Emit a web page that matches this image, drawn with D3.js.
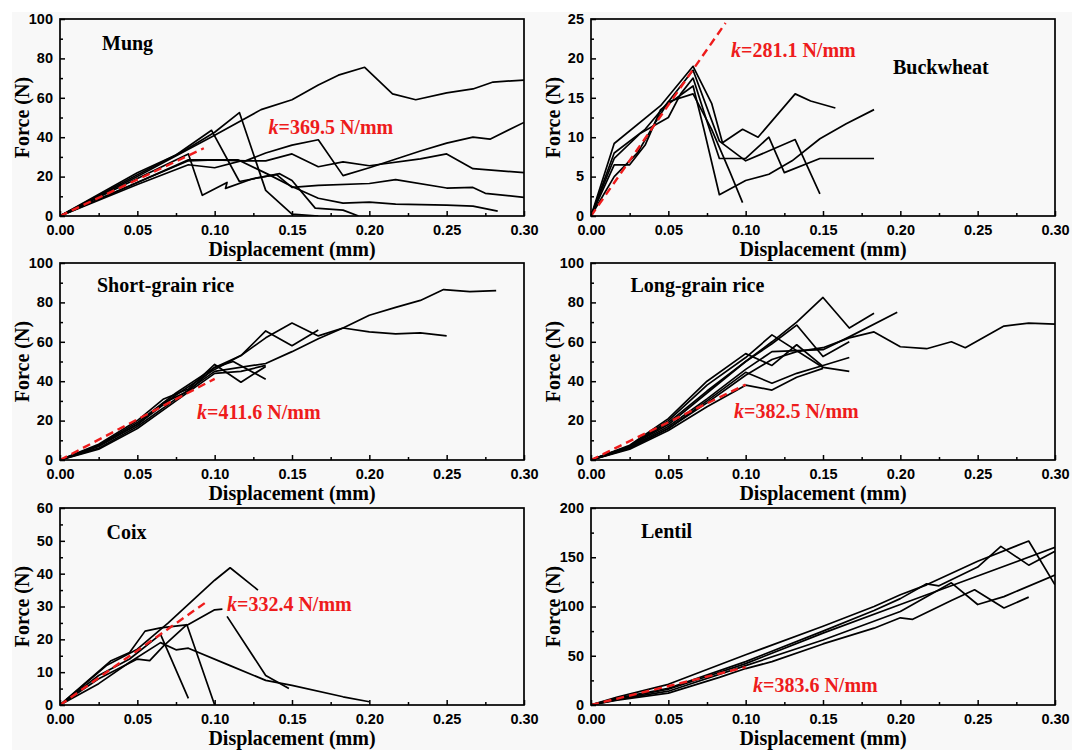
<!DOCTYPE html>
<html>
<head>
<meta charset="utf-8">
<script src="https://cdn.jsdelivr.net/npm/d3@7"></script>
<style>
  html, body { margin: 0; padding: 0; background: #fff; }
  svg { display: block; }
</style>
</head>
<body>
<svg id="chart"></svg>
<script>
// DATA  (displacement mm, force N)
const panelNames = ["Mung", "Buckwheat", "Short-grain rice", "Long-grain rice", "Coix", "Lentil"];
const kLabels = ["369.5", "281.1", "411.6", "382.5", "332.4", "383.6"];
const yMax = [100, 25, 100, 100, 60, 200];
const yStep = [20, 5, 20, 20, 10, 50];
const xTicks = [0, 0.05, 0.1, 0.15, 0.2, 0.25, 0.3];

// end points of the red fitted lines (start at 0,0)
const fitEnds = [[0.093, 34.4], [0.087, 24.5], [0.1, 41.2], [0.1, 38.3], [0.095, 31.5], [0.1, 38.4]];

const mungCurves = [
  [[0,0],[0.05,20],[0.1,41],[0.13,54],[0.15,59],[0.167,66.5],[0.18,71.5],[0.197,75.5],[0.215,62],[0.23,59],[0.25,62.5],[0.267,64.5],[0.28,68],[0.30,69]],
  [[0,0],[0.05,21],[0.08,33],[0.1,42.5],[0.116,52.5],[0.133,13],[0.15,1],[0.167,0]],
  [[0,0],[0.05,22],[0.075,31],[0.098,43.5],[0.116,17.5],[0.142,21.5],[0.15,18],[0.165,4],[0.183,3],[0.193,0]],
  [[0,0],[0.05,19],[0.083,31.5],[0.092,10.5],[0.108,17],[0.107,14],[0.125,19],[0.14,21],[0.15,14.5],[0.167,15.5],[0.2,16.5],[0.217,18.5],[0.25,14.2],[0.267,14.5],[0.275,11.5],[0.30,9.5]],
  [[0,0],[0.05,17],[0.083,28],[0.1,28.5],[0.12,28],[0.133,32],[0.15,36],[0.167,38.7],[0.183,20.5],[0.2,24.5],[0.233,33],[0.25,37],[0.267,40],[0.278,39],[0.30,47.5]],
  [[0,0],[0.05,16],[0.083,26],[0.1,24.5],[0.117,28],[0.133,28],[0.15,31.5],[0.167,25],[0.183,27.5],[0.2,25.5],[0.233,29],[0.25,31.5],[0.267,24],[0.30,22]],
  [[0,0],[0.05,17],[0.083,28.5],[0.115,28.5],[0.135,21],[0.15,15],[0.167,9],[0.183,6.5],[0.2,7],[0.217,6],[0.25,5.5],[0.267,5],[0.283,2.5]]
];

const buckwheatCurves = [
  [[0,0],[0.015,9.2],[0.045,14],[0.066,19],[0.078,14.3],[0.085,9.3],[0.098,11],[0.108,10],[0.132,15.5],[0.142,14.6],[0.158,13.7]],
  [[0,0],[0.015,8],[0.035,11],[0.05,14.5],[0.066,18.5],[0.083,9.5],[0.1,7],[0.132,9.7],[0.148,2.8]],
  [[0,0],[0.015,7.3],[0.032,10.5],[0.05,12.5],[0.058,15.5],[0.066,17.5],[0.075,12],[0.083,7.3],[0.1,7.3],[0.115,10],[0.125,5.5],[0.148,7.3],[0.183,7.3]],
  [[0,0],[0.015,6.5],[0.025,6.5],[0.035,9],[0.045,13.5],[0.066,16.5],[0.073,11],[0.083,2.7],[0.1,4.5],[0.115,5.3],[0.13,7],[0.148,9.8],[0.165,11.7],[0.183,13.5]],
  [[0,0],[0.015,5],[0.03,8],[0.042,12],[0.05,14.5],[0.066,15.5],[0.078,11],[0.09,5.5],[0.098,1.7]]
];

const shortGrainCurves = [
  [[0,0],[0.025,6],[0.05,17],[0.075,31],[0.1,45],[0.133,49],[0.15,55],[0.167,61.5],[0.183,67],[0.2,73.5],[0.217,77.5],[0.233,81],[0.248,86.5],[0.265,85.5],[0.282,86]],
  [[0,0],[0.025,7],[0.05,18],[0.075,33],[0.1,46],[0.117,53],[0.133,65.5],[0.15,58],[0.167,66]],
  [[0,0],[0.025,7.5],[0.05,19],[0.075,34],[0.1,47],[0.117,53],[0.133,62],[0.15,69.5],[0.167,63],[0.183,67],[0.2,65],[0.217,64],[0.233,64.5],[0.25,63]],
  [[0,0],[0.025,8],[0.05,20],[0.067,31],[0.083,36],[0.1,48.5],[0.117,39.5],[0.133,47.5]],
  [[0,0],[0.025,7],[0.05,18],[0.067,29],[0.083,35],[0.1,47],[0.112,50],[0.133,41]],
  [[0,0],[0.025,5.5],[0.05,16],[0.075,30],[0.1,44],[0.117,45],[0.133,48]]
];

const longGrainCurves = [
  [[0,0],[0.025,6],[0.05,16],[0.075,29],[0.1,43],[0.117,51],[0.133,55],[0.15,57],[0.167,62],[0.183,65],[0.2,57.5],[0.217,56.5],[0.233,60],[0.242,57],[0.267,68],[0.283,69.5],[0.30,69]],
  [[0,0],[0.025,7],[0.05,19],[0.075,35],[0.1,50],[0.117,60],[0.133,70],[0.15,82.5],[0.167,67],[0.183,74.5]],
  [[0,0],[0.025,6.5],[0.05,17],[0.075,31],[0.1,46],[0.117,55],[0.133,55.5],[0.15,56],[0.167,62.5],[0.198,75]],
  [[0,0],[0.025,7],[0.05,20],[0.075,38],[0.1,52],[0.117,63.5],[0.15,47],[0.167,45]],
  [[0,0],[0.025,7],[0.05,18],[0.075,34],[0.1,50],[0.117,59],[0.133,68.5],[0.15,52.5],[0.167,60]],
  [[0,0],[0.025,7.5],[0.05,21],[0.075,40],[0.1,54],[0.117,48],[0.133,58.5],[0.15,47.5]],
  [[0,0],[0.025,6],[0.05,16],[0.075,30],[0.1,44.5],[0.117,39],[0.133,44],[0.15,48],[0.167,52]],
  [[0,0],[0.025,5.5],[0.05,15],[0.075,27],[0.1,38],[0.117,35.5],[0.133,42],[0.15,46.5]]
];

const coixCurves = [
  [[0,0],[0.03,12],[0.05,17],[0.07,25],[0.1,38],[0.11,41.8],[0.128,35]],
  [[0,0],[0.033,13.5],[0.045,16],[0.055,22.5],[0.065,23.5],[0.083,24.5],[0.1,29],[0.105,29.2]],
  [[0.108,27],[0.133,9],[0.148,5]],
  [[0,0],[0.025,8],[0.05,14],[0.058,13.5],[0.067,18],[0.082,24.5],[0.1,0]],
  [[0,0],[0.025,9],[0.045,14],[0.065,21.5],[0.083,2]],
  [[0,0],[0.025,6.5],[0.045,13],[0.065,19],[0.075,16.8],[0.083,17.3],[0.11,12],[0.133,7.5],[0.15,6],[0.183,2.5],[0.2,1]]
];

const lentilCurves = [
  [[0,0],[0.017,8],[0.05,21],[0.1,51],[0.15,80],[0.183,100],[0.2,112],[0.217,122],[0.25,146],[0.283,166.5],[0.30,122]],
  [[0,0],[0.017,7],[0.05,17],[0.1,44],[0.15,75],[0.183,96],[0.2,108],[0.217,123],[0.225,121],[0.25,140],[0.265,161],[0.283,142],[0.30,156]],
  [[0,0],[0.017,6],[0.05,16],[0.1,42],[0.15,73],[0.2,102],[0.25,131],[0.30,160]],
  [[0,0],[0.017,5.5],[0.05,14],[0.1,40],[0.15,66],[0.2,95],[0.233,124],[0.25,102],[0.267,110],[0.30,132]],
  [[0,0],[0.017,5],[0.05,12],[0.083,28],[0.1,37],[0.117,44],[0.15,62],[0.183,78],[0.2,88.5],[0.208,87],[0.233,106],[0.248,117],[0.267,98.5],[0.283,109.5]]
];

const allCurves = [mungCurves, buckwheatCurves, shortGrainCurves, longGrainCurves, coixCurves, lentilCurves];

// LAYOUT
const width = 1072, height = 750;
const plotW = 464, plotH = 197;
const colX = [60, 591];
const rowY = [19, 263, 508];
// label offsets inside each panel (px from panel top-left, text baseline)
const nameOffsets = [[42, 31], [302, 55], [37, 28.5], [39.5, 28.5], [46.5, 31], [50, 29.5]];
const kOffsets = [[208.5, 115], [140, 37.5], [137, 156], [143, 155], [167, 102.5], [162, 183.5]];

const serif = "'Liberation Serif', 'Times New Roman', serif";
const sans = "'Liberation Sans', Arial, sans-serif";

const svg = d3.select("#chart").attr("width", width).attr("height", height);

svg.append("rect")
  .attr("x", 12).attr("y", 12)
  .attr("width", width - 12).attr("height", height - 12)
  .attr("fill", "#f8f8f8");

const line = d3.line();

panelNames.forEach((name, i) => {
  const px = colX[i % 2], py = rowY[Math.floor(i / 2)];
  const g = svg.append("g").attr("transform", `translate(${px},${py})`);

  const x = d3.scaleLinear().domain([0, 0.3]).range([0, plotW]);
  const y = d3.scaleLinear().domain([0, yMax[i]]).range([plotH, 0]);
  line.x((d) => x(d[0])).y((d) => y(d[1]));

  // clip
  g.append("clipPath").attr("id", "clip" + i)
    .append("rect").attr("width", plotW).attr("height", plotH);

  // curves
  g.append("g").attr("clip-path", `url(#clip${i})`)
    .selectAll("path")
    .data(allCurves[i])
    .join("path")
    .attr("d", line)
    .attr("fill", "none")
    .attr("stroke", "#000")
    .attr("stroke-width", 1.7)
    .attr("stroke-linejoin", "round");

  // fitted line
  g.append("path")
    .attr("d", line([[0, 0], fitEnds[i]]))
    .attr("fill", "none")
    .attr("stroke", "#ee1c1c")
    .attr("stroke-width", 2.4)
    .attr("stroke-dasharray", "8,5");

  // frame
  g.append("rect")
    .attr("width", plotW).attr("height", plotH)
    .attr("fill", "none").attr("stroke", "#000").attr("stroke-width", 1.7);

  // x axis
  const xMinor = d3.range(0.025, 0.3, 0.05);
  const xAxis = g.append("g").attr("transform", `translate(0,${plotH})`)
    .call(d3.axisBottom(x).tickValues(xTicks).tickFormat(d3.format(".2f")).tickSizeInner(-5).tickSizeOuter(0).tickPadding(9));
  xAxis.select(".domain").remove();
  g.append("g").attr("transform", `translate(0,${plotH})`)
    .call(d3.axisBottom(x).tickValues(xMinor).tickFormat("").tickSizeInner(-3).tickSizeOuter(0))
    .select(".domain").remove();

  // y axis
  const yTicks = d3.range(0, yMax[i] + 0.001, yStep[i]);
  const yMinor = d3.range(yStep[i] / 2, yMax[i], yStep[i]);
  const yAxis = g.append("g")
    .call(d3.axisLeft(y).tickValues(yTicks).tickSizeInner(-5).tickSizeOuter(0).tickPadding(7));
  yAxis.select(".domain").remove();
  g.append("g")
    .call(d3.axisLeft(y).tickValues(yMinor).tickFormat("").tickSizeInner(-3).tickSizeOuter(0))
    .select(".domain").remove();

  g.selectAll(".tick line").attr("stroke", "#000").attr("stroke-width", 1.5);
  g.selectAll(".tick text")
    .attr("font-family", sans).attr("font-weight", "bold")
    .attr("font-size", 14.5).attr("fill", "#000");
  xAxis.selectAll(".tick text").attr("dy", "0.71em");
  yAxis.selectAll(".tick text").attr("dy", "0.3em");

  // axis titles
  g.append("text")
    .attr("x", plotW / 2).attr("y", plotH + 40)
    .attr("text-anchor", "middle")
    .attr("font-family", serif).attr("font-weight", "bold").attr("font-size", 20)
    .text("Displacement (mm)");
  g.append("text")
    .attr("transform", `translate(-31,${plotH / 2}) rotate(-90)`)
    .attr("text-anchor", "middle")
    .attr("font-family", serif).attr("font-weight", "bold").attr("font-size", 20)
    .text("Force (N)");

  // panel name
  g.append("text")
    .attr("x", nameOffsets[i][0]).attr("y", nameOffsets[i][1])
    .attr("font-family", serif).attr("font-weight", "bold").attr("font-size", 20)
    .text(name);

  // k label
  const kt = g.append("text")
    .attr("x", kOffsets[i][0]).attr("y", kOffsets[i][1])
    .attr("font-family", serif).attr("font-weight", "bold").attr("font-size", 20)
    .attr("fill", "#ee1c1c");
  kt.append("tspan").attr("font-style", "italic").text("k");
  kt.append("tspan").text("=" + kLabels[i] + " N/mm");
});
</script>
</body>
</html>
